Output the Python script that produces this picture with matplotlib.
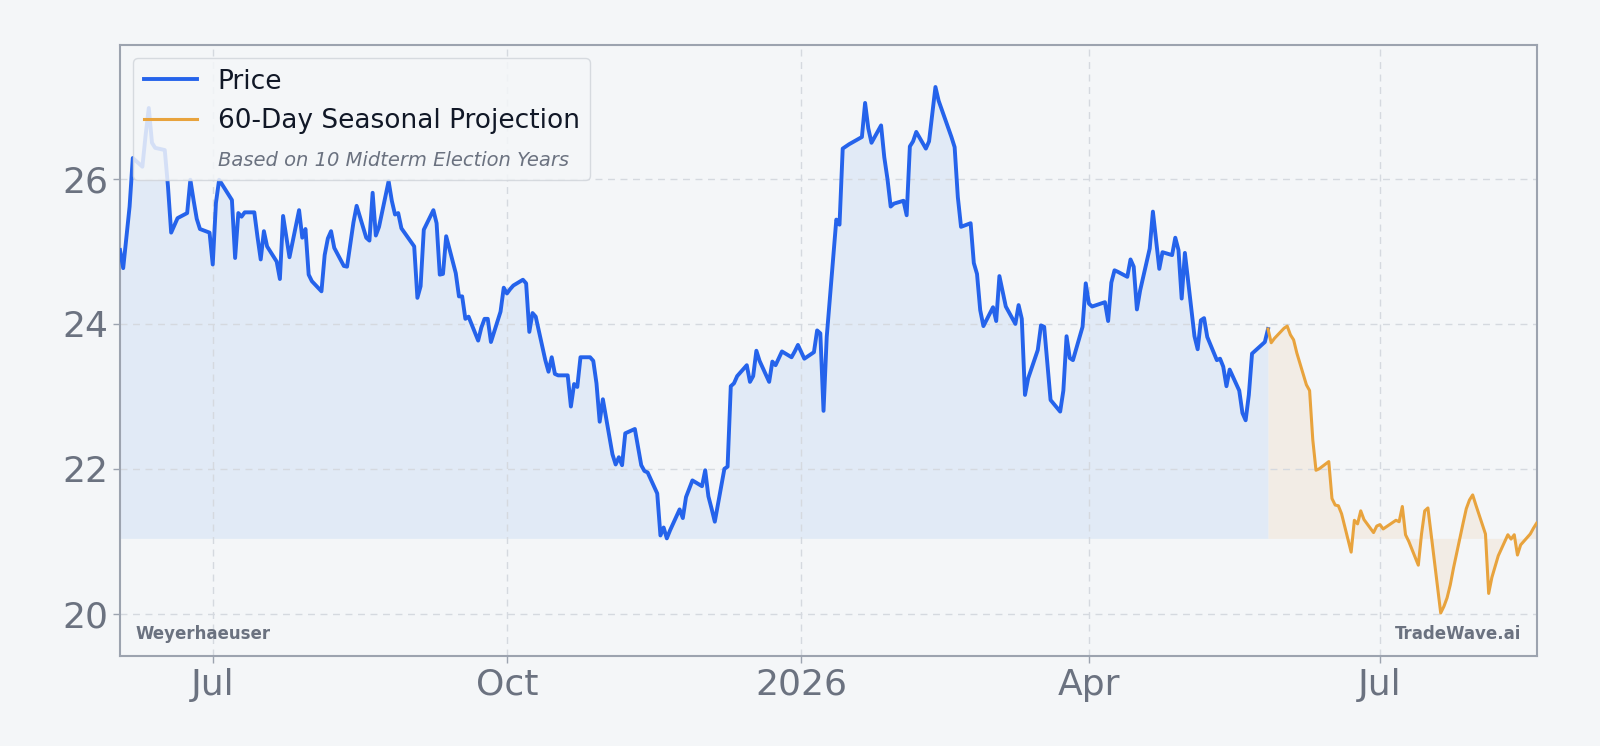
import matplotlib
matplotlib.use("Agg")
import matplotlib.pyplot as plt
import matplotlib.dates as mdates
from matplotlib.lines import Line2D
import pandas as pd
import numpy as np

# ---------------- data ----------------
holidays = ["2025-06-19", "2025-07-04", "2025-09-01", "2025-11-27", "2025-12-25",
            "2026-01-01", "2026-01-19", "2026-02-16", "2026-04-03", "2026-05-25"]

price = [
    25.02, 24.77, 25.20, 25.62, 26.29,
    26.17, 26.60, 26.98, 26.50, 26.43,
    26.40, 25.90, 25.26, 25.46,
    25.53, 25.99, 25.71, 25.45, 25.31,
    25.26, 24.82, 25.67, 25.99,
    25.71, 24.91, 25.53, 25.48, 25.54,
    25.54, 25.20, 24.89, 25.28, 25.07,
    24.86, 24.62, 25.49, 25.20, 24.92,
    25.57, 25.19, 25.31, 24.68, 24.59,
    24.45, 24.95, 25.18, 25.28, 25.05,
    24.80, 24.79, 25.10, 25.40, 25.63,
    25.19, 25.15, 25.81, 25.22, 25.34,
    25.97, 25.70, 25.51, 25.53, 25.32,
    25.07, 24.36, 24.52, 25.30,
    25.57, 25.39, 24.68, 24.69, 25.21,
    24.70, 24.38, 24.38, 24.07, 24.10,
    23.77, 23.95, 24.07, 24.07, 23.75,
    24.17, 24.50, 24.42, 24.48, 24.53,
    24.61, 24.56, 23.89, 24.15, 24.10,
    23.50, 23.34, 23.54, 23.31, 23.29,
    23.29, 22.86, 23.17, 23.13, 23.54,
    23.54, 23.49, 23.18, 22.65, 22.96,
    22.20, 22.06, 22.16, 22.05, 22.49,
    22.55, 22.30, 22.05, 21.97, 21.95,
    21.66, 21.08, 21.19, 21.04, 21.15,
    21.44, 21.32, 21.61, 21.84,
    21.76, 21.98, 21.62, 21.45, 21.27,
    22.00, 22.03, 23.14, 23.18, 23.28,
    23.43, 23.20, 23.28, 23.63, 23.49,
    23.20, 23.48, 23.43, 23.62,
    23.54, 23.62, 23.71, 23.52,
    23.61, 23.91, 23.87, 22.80, 23.82,
    25.44, 25.37, 26.42, 26.45, 26.48,
    26.58, 27.05, 26.70, 26.50,
    26.74, 26.30, 26.00, 25.62, 25.66,
    25.70, 25.50, 26.45, 26.52, 26.65,
    26.42, 26.52, 26.90, 27.27, 27.08,
    26.58, 26.44, 25.75, 25.34,
    25.39, 24.84, 24.69, 24.19, 23.97,
    24.23, 24.04, 24.66, 24.45, 24.24,
    24.00, 24.26, 24.07, 23.02, 23.25,
    23.64, 23.98, 23.96, 23.45, 22.95,
    22.79, 23.08, 23.83, 23.53, 23.50,
    23.96, 24.56, 24.28, 24.24,
    24.30, 24.04, 24.57, 24.74, 24.72,
    24.65, 24.89, 24.79, 24.20, 24.46,
    25.04, 25.55, 25.15, 24.76, 24.99,
    24.95, 25.19, 25.02, 24.35, 24.98,
    23.83, 23.65, 24.05, 24.08, 23.82,
    23.50, 23.52, 23.41, 23.14, 23.37,
    23.08, 22.77, 22.67, 23.02, 23.59,
    23.75, 23.93,
]

projection = [
    23.74, 23.80,
    23.94, 23.97, 23.85, 23.78, 23.60,
    23.16, 23.08, 22.40, 21.98, 22.00,
    22.10, 21.59, 21.50, 21.49, 21.38,
    20.85, 21.29, 21.24, 21.42, 21.30,
    21.12, 21.21, 21.23, 21.17, 21.20,
    21.29, 21.27, 21.48, 21.09, 21.00,
    20.67, 21.10, 21.42, 21.46, 21.10,
    20.01, 20.10, 20.22, 20.40, 20.63,
    21.25, 21.45, 21.57, 21.64, 21.50,
    21.10, 20.28, 20.50, 20.65, 20.80,
    21.09, 21.03, 21.09, 20.81, 20.95,
    21.10, 21.18, 21.25,
]

ticker_name = "Weyerhaeuser"
brand = "TradeWave.ai"
legend_labels = ["Price", "60-Day Seasonal Projection", "Based on 10 Midterm Election Years"]

price_dates = pd.bdate_range("2025-06-02", "2026-05-27", freq="C", holidays=holidays)
price_dates = price_dates[:len(price)]
proj_dates = pd.bdate_range(price_dates[-1] + pd.Timedelta(days=1), periods=len(projection))

# ---------------- style ----------------
BG = "#f4f6f8"
BLUE = "#2563eb"
ORANGE = "#e8a33d"
GREY_TXT = "#6b7280"

fig = plt.figure(figsize=(16, 7.46), dpi=100, facecolor=BG)
ax = fig.add_axes([0.075, 0.1206, 0.8854, 0.8191])
ax.set_facecolor(BG)

price_arr = np.array(price)
base = price_arr.min()

ax.fill_between(price_dates, price_arr, base, color="#dbe7f6", alpha=0.75, lw=0, zorder=1)
proj_x = [price_dates[-1]] + list(proj_dates)
proj_y = np.array([price[-1]] + projection)
ax.fill_between(proj_x, proj_y, base, color="#f1e6d9", alpha=0.6, lw=0, zorder=1)

ax.plot(price_dates, price_arr, color=BLUE, lw=2.8, zorder=3, solid_joinstyle="round")
ax.plot(proj_x, proj_y, color=ORANGE, lw=2.2, zorder=3, solid_joinstyle="round")

ax.set_xlim(price_dates[0], proj_dates[-1])
ax.set_ylim(19.416, 27.85)

ax.set_yticks([20, 22, 24, 26])
ax.xaxis.set_major_locator(mdates.MonthLocator(bymonth=[1, 4, 7, 10]))
def fmt(x, pos):
    d = mdates.num2date(x)
    return str(d.year) if d.month == 1 else d.strftime("%b")
ax.xaxis.set_major_formatter(plt.FuncFormatter(fmt))

ax.grid(True, color="#d5d9df", ls=(0, (5, 4)), lw=1.0, zorder=0)
ax.tick_params(axis="both", colors="#9ca3af", labelcolor=GREY_TXT, labelsize=26, length=5, width=1)
for s in ax.spines.values():
    s.set_color("#9ca3af")
    s.set_linewidth(1.5)

handles = [Line2D([], [], color=BLUE, lw=2.8),
           Line2D([], [], color=ORANGE, lw=2.2),
           Line2D([], [], color="none", lw=0)]
leg = ax.legend(handles, legend_labels, loc="upper left", fontsize=19,
                frameon=True, facecolor=BG, edgecolor="#d1d5db", framealpha=0.85,
                handlelength=2.0, labelcolor="#111827")
t = leg.get_texts()[2]
t.set_fontstyle("italic")
t.set_fontsize(14)
t.set_color(GREY_TXT)

ax.text(0.0106, 0.036, ticker_name, transform=ax.transAxes, fontsize=12,
        fontweight="bold", color=GREY_TXT, ha="left", va="center")
ax.text(0.989, 0.036, brand, transform=ax.transAxes, fontsize=12,
        fontweight="bold", color=GREY_TXT, ha="right", va="center")

fig.savefig("out.png", dpi=100, facecolor=BG)
